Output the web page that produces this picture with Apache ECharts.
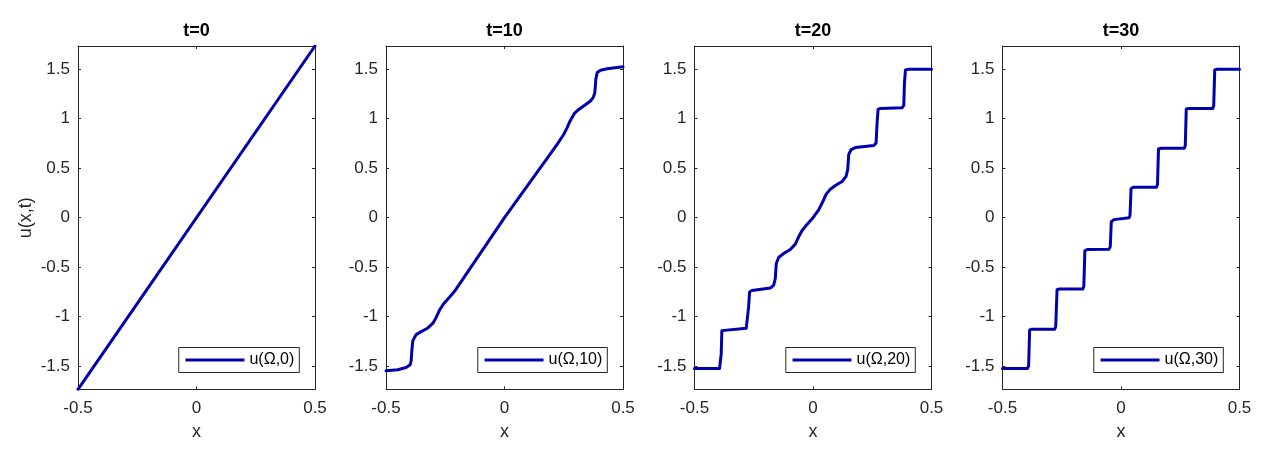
<!DOCTYPE html>
<html>
<head>
<meta charset="utf-8">
<script src="https://cdn.jsdelivr.net/npm/echarts@6/dist/echarts.min.js"></script>
<style>
html,body{margin:0;padding:0;background:#fff;}
#chart{width:1273px;height:461px;}
</style>
</head>
<body>
<div id="chart"></div>
<script>
// ---- data ----
const titles = ['t=0', 't=10', 't=20', 't=30'];
const legendNames = ['u(Ω,0)', 'u(Ω,10)', 'u(Ω,20)', 'u(Ω,30)'];
const xTicks = [-0.5, 0, 0.5];
const yTicks = [-1.5, -1, -0.5, 0, 0.5, 1, 1.5];
const xLimits = [-0.5, 0.5];
const yLimits = [-1.7321, 1.7321];

const t0_x = [-0.5, 0.5];
const t0_y = [-1.7321, 1.7321];

const t10_x = [-0.5, -0.4505, -0.4151, -0.3982, -0.3939, -0.391, -0.3868, -0.3727, -0.3515, -0.3232, -0.302, -0.2878, -0.2737, -0.2567, -0.2313, -0.21, 0, 0.2214, 0.2496, 0.2638, 0.2779, 0.2949, 0.3133, 0.3416, 0.3628, 0.3741, 0.3812, 0.3854, 0.3911, 0.4052, 0.4335, 0.5];
const t10_y = [-1.545, -1.535, -1.512, -1.485, -1.444, -1.343, -1.241, -1.18, -1.15, -1.113, -1.065, -1.004, -0.93, -0.869, -0.801, -0.741, 0, 0.737, 0.839, 0.906, 0.981, 1.052, 1.092, 1.14, 1.177, 1.211, 1.261, 1.397, 1.464, 1.488, 1.502, 1.522];

const t20_x = [-0.5, -0.3944, -0.39, -0.3873, -0.3845, -0.3775, -0.2817, -0.2746, -0.2718, -0.2676, -0.2577, -0.1803, -0.1662, -0.1592, -0.1549, -0.1451, -0.1239, -0.0958, -0.0746, -0.0606, -0.0465, -0.0254, 0, 0.0239, 0.038, 0.0563, 0.0732, 0.0944, 0.1225, 0.1394, 0.1465, 0.1507, 0.1606, 0.1789, 0.2563, 0.2662, 0.2704, 0.2746, 0.2845, 0.3761, 0.3831, 0.3859, 0.3901, 0.4042, 0.5];
const t20_y = [-1.522, -1.522, -1.505, -1.376, -1.14, -1.126, -1.116, -1.099, -0.903, -0.751, -0.734, -0.71, -0.683, -0.615, -0.463, -0.402, -0.362, -0.321, -0.267, -0.193, -0.132, -0.068, 0, 0.078, 0.145, 0.24, 0.287, 0.325, 0.365, 0.416, 0.484, 0.636, 0.687, 0.707, 0.727, 0.754, 0.957, 1.092, 1.102, 1.109, 1.133, 1.363, 1.491, 1.498, 1.498];

const t30_x = [-0.5, -0.3941, -0.3898, -0.3856, -0.3757, -0.2797, -0.2754, -0.2698, -0.2599, -0.161, -0.1568, -0.1525, -0.1427, -0.0508, -0.0452, -0.041, -0.0297, 0.0339, 0.0381, 0.0424, 0.0523, 0.1497, 0.154, 0.1582, 0.1681, 0.267, 0.2712, 0.2754, 0.2853, 0.387, 0.3912, 0.3955, 0.4054, 0.5];
const t30_y = [-1.522, -1.522, -1.495, -1.133, -1.126, -1.126, -1.099, -0.727, -0.72, -0.72, -0.693, -0.335, -0.321, -0.318, -0.294, -0.041, -0.02, 0.0, 0.024, 0.291, 0.308, 0.308, 0.335, 0.693, 0.7, 0.7, 0.727, 1.096, 1.102, 1.102, 1.13, 1.491, 1.498, 1.498];

const seriesX = [t0_x, t10_x, t20_x, t30_x];
const seriesY = [t0_y, t10_y, t20_y, t30_y];

// ---- layout ----
const gridLefts = [78, 386, 694.5, 1002.5];
const gridW = 237, gridTop = 46, gridH = 343.3;
const legendRights = [973.7, 665.7, 357.7, 49.7];
const axisColor = '#262626';
const lineColor = '#0000AE';
const font = 'Liberation Sans, Arial, Helvetica, sans-serif';

const grids = [], xAxes = [], yAxes = [], series = [], legends = [];
const xTop = [], yRight = [];
for (let i = 0; i < 4; i++) {
  grids.push({left: gridLefts[i], top: gridTop, width: gridW, height: gridH, containLabel: false});
  xAxes.push({
    type: 'value', gridIndex: i, position: 'bottom', min: xLimits[0], max: xLimits[1], interval: 0.5,
    name: 'x', nameLocation: 'middle', nameGap: 34,
    nameTextStyle: {fontFamily: font, fontSize: 18, color: axisColor},
    axisLine: {show: true, onZero: false, lineStyle: {color: axisColor, width: 1}},
    axisTick: {show: true, inside: true, length: 3, lineStyle: {color: axisColor}},
    axisLabel: {fontFamily: font, fontSize: 17, color: axisColor, margin: 11, showMinLabel: true, showMaxLabel: true, hideOverlap: false,
      formatter: v => String(v)},
    splitLine: {show: false}
  });
  xTop.push({
    type: 'value', gridIndex: i, position: 'top', min: xLimits[0], max: xLimits[1], interval: 0.5,
    name: titles[i], nameLocation: 'middle', nameGap: 6,
    nameTextStyle: {fontFamily: font, fontSize: 18, fontWeight: 'bold', color: '#000'},
    axisLine: {show: true, onZero: false, lineStyle: {color: axisColor, width: 1}},
    axisTick: {show: true, inside: true, length: 3, lineStyle: {color: axisColor}},
    axisLabel: {show: false},
    splitLine: {show: false}
  });
  yAxes.push({
    type: 'value', gridIndex: i, position: 'left', min: yLimits[0], max: yLimits[1],
    name: i === 0 ? 'u(x,t)' : '', nameLocation: 'middle', nameGap: 43,
    nameTextStyle: {fontFamily: font, fontSize: 18, color: axisColor},
    axisLine: {show: true, onZero: false, lineStyle: {color: axisColor, width: 1}},
    axisTick: {show: true, inside: true, length: 3, lineStyle: {color: axisColor}, customValues: yTicks},
    axisLabel: {fontFamily: font, fontSize: 17, color: axisColor, margin: 8, customValues: yTicks,
      formatter: v => String(v)},
    splitLine: {show: false}
  });
  yRight.push({
    type: 'value', gridIndex: i, position: 'right', min: yLimits[0], max: yLimits[1],
    axisLine: {show: true, onZero: false, lineStyle: {color: axisColor, width: 1}},
    axisTick: {show: true, inside: true, length: 3, lineStyle: {color: axisColor}, customValues: yTicks},
    axisLabel: {show: false},
    splitLine: {show: false}
  });
  const pts = seriesX[i].map((x, k) => [x, seriesY[i][k]]);
  series.push({
    type: 'line', name: legendNames[i], xAxisIndex: i, yAxisIndex: i, data: pts,
    showSymbol: false, symbol: 'none', smooth: false, animation: false,
    lineStyle: {color: lineColor, width: 3, join: 'round', cap: 'round'},
    itemStyle: {color: lineColor}
  });
  legends.push({
    data: [legendNames[i]], right: legendRights[i], top: 347.5, orient: 'horizontal',
    icon: 'rect', itemWidth: 59, itemHeight: 3,
    padding: [4.5, 5, 4.5, 6.7],
    backgroundColor: '#fff', borderColor: axisColor, borderWidth: 1, borderRadius: 0,
    textStyle: {fontFamily: font, fontSize: 16, color: '#000', lineHeight: 16},
    selectedMode: false
  });
}

const chart = echarts.init(document.getElementById('chart'), null, {renderer: 'canvas'});
chart.setOption({
  backgroundColor: '#fff',
  animation: false,
  grid: grids,
  xAxis: xAxes.concat(xTop),
  yAxis: yAxes.concat(yRight),
  legend: legends,
  series: series
});
</script>
</body>
</html>
